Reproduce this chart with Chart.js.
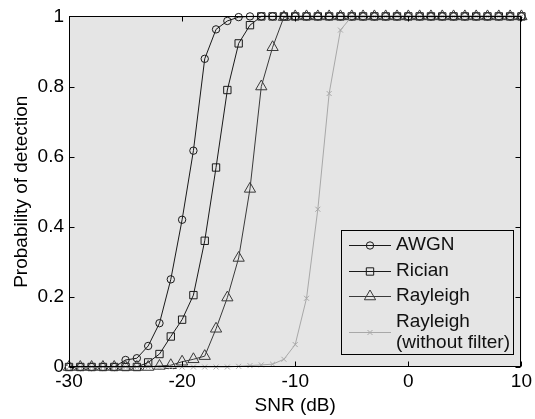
<!DOCTYPE html>
<html>
<head>
<meta charset="utf-8">
<script src="https://cdn.jsdelivr.net/npm/chart.js@4.4.1/dist/chart.umd.min.js"></script>
<style>
    html, body { margin: 0; padding: 0; background: #fff; }
    #wrap { position: relative; width: 535px; height: 419px; }
</style>
</head>
<body>
<div id="wrap"><canvas id="chart"></canvas></div>
<script>
// SNR (dB), un point par dB
const snr = [-30, -29, -28, -27, -26, -25, -24, -23, -22, -21, -20, -19, -18, -17,
    -16, -15, -14, -13, -12, -11, -10, -9, -8, -7, -6, -5, -4, -3, -2, -1,
    0, 1, 2, 3, 4, 5, 6, 7, 8, 9, 10];

const pdAwgn = [0, 0, 0, 0, 0, 0.02, 0.025, 0.06, 0.125, 0.25, 0.42, 0.617, 0.879, 0.963,
    0.987, 0.998, 1, 1, 1, 1, 1, 1, 1, 1, 1, 1, 1, 1, 1, 1,
    1, 1, 1, 1, 1, 1, 1, 1, 1, 1, 1];
const pdRician = [0, 0, 0, 0, 0, 0, 0, 0.013, 0.037, 0.087, 0.135, 0.205, 0.36, 0.569,
    0.79, 0.923, 0.975, 1, 1, 1, 1, 1, 1, 1, 1, 1, 1, 1, 1, 1,
    1, 1, 1, 1, 1, 1, 1, 1, 1, 1, 1];
const pdRayleigh = [0, 0, 0, 0, 0, 0, 0, 0, 0.003, 0.005, 0.015, 0.022, 0.031, 0.109,
    0.198, 0.311, 0.508, 0.8, 0.912, 0.998, 1, 1, 1, 1, 1, 1, 1, 1, 1, 1,
    1, 1, 1, 1, 1, 1, 1, 1, 1, 1, 1];
const pdRayleighNoFilter = [0, 0, 0, 0, 0, 0, 0, 0, 0, 0, 0, 0, 0, 0,
    0, 0.002, 0.004, 0.006, 0.008, 0.022, 0.064, 0.196, 0.45, 0.78, 0.961, 1, 1, 1, 1, 1,
    1, 1, 1, 1, 1, 1, 1, 1, 1, 1, 1];

const seriesLabels = ["AWGN", "Rician", "Rayleigh", ["Rayleigh", "(without filter)"]];
const xTicks = [-30, -20, -10, 0, 10];
const yTicks = [0, 0.2, 0.4, 0.6, 0.8, 1];

const FONT = "'Liberation Sans', Arial, sans-serif";
const PLOT_BG = "#e5e5e5";

const styles = [
    { color: "#1a1a1a", pointStyle: "circle", radius: 3.7 },
    { color: "#1a1a1a", pointStyle: "rect", radius: 5.2 },
    { color: "#3a3a3a", pointStyle: "triangle", radius: 6.5 },
    { color: "#a8a8a8", pointStyle: "crossRot", radius: 3.5 },
];
const series = [pdAwgn, pdRician, pdRayleigh, pdRayleighNoFilter];

const datasets = series.map((vals, i) => ({
    label: [].concat(seriesLabels[i]).join(" "),
    data: snr.map((s, k) => ({ x: s, y: vals[k] })),
    borderColor: styles[i].color,
    borderWidth: 1,
    pointStyle: styles[i].pointStyle,
    pointRadius: styles[i].radius,
    pointBorderColor: styles[i].color,
    pointBackgroundColor: "rgba(0,0,0,0)",
    pointBorderWidth: 1,
    tension: 0,
    clip: false,
    order: series.length - 1 - i, // la dernière série est dessinée au-dessus
}));

// fond gris, cadre avec graduations internes et légende encadrée (style MATLAB)
const matlabFrame = {
    id: "matlabFrame",
    beforeDatasetsDraw(chart) {
        const { ctx, chartArea: a } = chart;
        ctx.save();
        ctx.fillStyle = PLOT_BG;
        ctx.fillRect(a.left, a.top, a.right - a.left, a.bottom - a.top);
        ctx.restore();
    },
    afterDatasetsDraw(chart) {
        const { ctx, chartArea: a, scales } = chart;
        const L = Math.round(a.left) + 0.5, R = Math.round(a.right) - 0.5;
        const T = Math.round(a.top) + 0.5, B = Math.round(a.bottom) - 0.5;
        ctx.save();
        ctx.strokeStyle = "#000";
        ctx.lineWidth = 1;
        ctx.strokeRect(L, T, R - L, B - T);
        ctx.beginPath();
        xTicks.forEach((v) => {
            const px = Math.round(scales.x.getPixelForValue(v)) + 0.5;
            ctx.moveTo(px, B); ctx.lineTo(px, B - 5);
            ctx.moveTo(px, T); ctx.lineTo(px, T + 5);
        });
        yTicks.forEach((v) => {
            const py = Math.round(scales.y.getPixelForValue(v)) + 0.5;
            ctx.moveTo(L, py); ctx.lineTo(L + 5, py);
            ctx.moveTo(R, py); ctx.lineTo(R - 5, py);
        });
        ctx.stroke();

        // légende
        const box = { left: 341, top: 230, right: 514, bottom: 355 };
        ctx.fillStyle = PLOT_BG;
        ctx.fillRect(box.left, box.top, box.right - box.left, box.bottom - box.top);
        ctx.strokeStyle = "#000";
        ctx.strokeRect(box.left + 0.5, box.top + 0.5, box.right - box.left - 1, box.bottom - box.top - 1);

        const rows = [245, 271, 296, 332];
        ctx.font = "19px " + FONT;
        ctx.textBaseline = "middle";
        ctx.textAlign = "left";
        seriesLabels.forEach((lbl, i) => {
            const y = rows[i];
            const st = styles[i];
            ctx.strokeStyle = st.color;
            ctx.lineWidth = 1;
            ctx.beginPath();
            ctx.moveTo(349, y + 0.5);
            ctx.lineTo(391, y + 0.5);
            ctx.stroke();
            ctx.fillStyle = "rgba(0,0,0,0)";
            Chart.helpers.drawPoint(ctx, {
                pointStyle: st.pointStyle, radius: st.radius, rotation: 0, borderWidth: 1,
            }, 370, y + 0.5);
            ctx.fillStyle = "#111";
            const lines = [].concat(lbl);
            lines.forEach((t, k) => {
                const ty = y + (k - (lines.length - 1) / 2) * 21;
                ctx.fillText(t, 396, ty);
            });
        });
        ctx.restore();
    },
};

new Chart(document.getElementById("chart"), {
    type: "line",
    data: { datasets: datasets },
    plugins: [matlabFrame],
    options: {
        responsive: true,
        maintainAspectRatio: false,
        animation: false,
        events: [],
        layout: { padding: { top: 12, right: 12, left: 0, bottom: 0 } },
        plugins: {
            legend: { display: false },
            tooltip: { enabled: false },
        },
        scales: {
            x: {
                type: "linear",
                min: -30,
                max: 10,
                afterBuildTicks: (s) => { s.ticks = xTicks.map((v) => ({ value: v })); },
                afterFit: (s) => { s.height = 52; },
                grid: { display: false, drawTicks: false },
                border: { display: false },
                ticks: {
                    padding: 3,
                    color: "#000",
                    maxRotation: 0,
                    autoSkip: false,
                    font: { family: FONT, size: 19 },
                    callback: (v) => String(v),
                },
                title: {
                    display: true,
                    text: "SNR (dB)",
                    color: "#000",
                    font: { family: FONT, size: 19 },
                    padding: { top: 0, bottom: 2 },
                },
            },
            y: {
                type: "linear",
                min: 0,
                max: 1,
                afterBuildTicks: (s) => { s.ticks = yTicks.map((v) => ({ value: v })); },
                afterFit: (s) => { s.width = 69; },
                grid: { display: false, drawTicks: false },
                border: { display: false },
                ticks: {
                    padding: 5,
                    color: "#000",
                    autoSkip: false,
                    font: { family: FONT, size: 19 },
                    callback: (v) => String(v),
                },
                title: {
                    display: true,
                    text: "Probability of detection",
                    color: "#000",
                    font: { family: FONT, size: 19 },
                    padding: { top: 10, bottom: 0 },
                },
            },
        },
    },
});
</script>
</body>
</html>
